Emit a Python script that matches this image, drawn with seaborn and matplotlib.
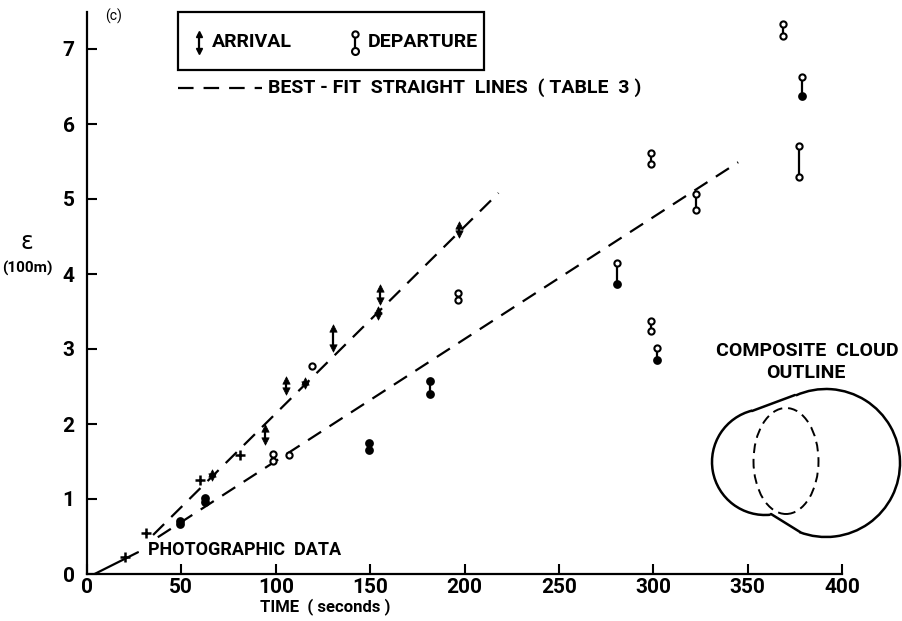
import matplotlib
matplotlib.use("Agg")
import matplotlib.pyplot as plt
from matplotlib.patches import Rectangle, Arc, Ellipse
import numpy as np
import pandas as pd
import seaborn as sns

# ---------------- data ----------------
arr_t  = [20, 31, 60, 66, 81, 94.5, 105.5, 115.5, 130.5, 154, 155, 197]
arr_lo = [0.23, 0.55, 1.25, 1.29, 1.59, 1.77, 2.44, 2.52, 3.02, 3.44, 3.64, 4.54]
arr_hi = [0.23, 0.55, 1.25, 1.35, 1.59, 1.95, 2.59, 2.58, 3.28, 3.52, 3.81, 4.66]

dep_t  = [49.5, 62.5, 98.5, 107, 119, 149.5, 181.5, 196.5, 281, 299, 299, 302, 322.5, 369, 379, 377]
dep_lo = [0.67, 0.96, 1.51, 1.59, 2.77, 1.65, 2.40, 3.65, 3.87, 5.47, 3.24, 2.85, 4.85, 7.18, 6.38, 5.30]
dep_hi = [0.71, 1.02, 1.60, 1.59, 2.77, 1.75, 2.57, 3.75, 4.15, 5.62, 3.38, 3.02, 5.07, 7.33, 6.63, 5.71]
dep_top_filled = [1, 1, 0, 0, 0, 1, 1, 0, 0, 0, 0, 0, 0, 0, 0, 0]
dep_bot_filled = [1, 1, 0, 0, 0, 1, 1, 0, 1, 0, 0, 1, 0, 0, 1, 0]

fit_name = ["arrival", "arrival", "departure", "departure"]
fit_t    = [35, 218, 37.5, 345]
fit_eps  = [0.52, 5.08, 0.49, 5.49]

photo_t   = [4, 27]
photo_eps = [0.0, 0.29]

x_ticks = [0, 50, 100, 150, 200, 250, 300, 350, 400]
y_ticks = [0, 1, 2, 3, 4, 5, 6, 7]

# ---------------- style ----------------
sns.set_theme(style="ticks")
plt.rcParams["font.family"] = ["Roboto", "DejaVu Sans"]
plt.rcParams["text.color"] = "black"
FS = 14
W = 902; H = 621

fig = plt.figure(figsize=(9.02, 6.21), dpi=100)
ax = fig.add_axes([87 / W, (H - 574) / H, (842 - 87) / W, 562.5 / H])

LW = 1.6
DASH = (0, (7, 4.5))
# fitted lines
fit_df = pd.DataFrame({"line": fit_name, "t": fit_t, "eps": fit_eps})
for name, g in fit_df.groupby("line"):
    sns.lineplot(data=g, x="t", y="eps", ax=ax, color="black", lw=LW,
                 linestyle=DASH, estimator=None, sort=False, legend=False)
# photographic data
sns.lineplot(x=photo_t, y=photo_eps, ax=ax, color="black", lw=LW,
             estimator=None, sort=False, legend=False)

# arrival marks
arr_df = pd.DataFrame({"t": arr_t, "lo": arr_lo, "hi": arr_hi})
rng = arr_df[arr_df.hi > arr_df.lo]
pts = arr_df[arr_df.hi == arr_df.lo]
ax.vlines(rng.t, rng.lo, rng.hi, color="black", lw=LW)
sns.scatterplot(data=rng, x="t", y="hi", ax=ax, marker="^", s=28, color="black",
                edgecolor="black", linewidth=0.5, legend=False, zorder=4)
sns.scatterplot(data=rng, x="t", y="lo", ax=ax, marker="v", s=28, color="black",
                edgecolor="black", linewidth=0.5, legend=False, zorder=4)
sns.scatterplot(data=pts, x="t", y="lo", ax=ax, marker="+", s=45, color="black",
                linewidth=1.8, legend=False, zorder=4)

# departure marks
dep_df = pd.DataFrame({"t": dep_t, "lo": dep_lo, "hi": dep_hi,
                       "tf": dep_top_filled, "bf": dep_bot_filled})
drng = dep_df[dep_df.hi > dep_df.lo]
ax.vlines(drng.t, drng.lo, drng.hi, color="black", lw=LW)
for col, flagcol, sub in [("hi", "tf", dep_df), ("lo", "bf", drng)]:
    filled = sub[sub[flagcol] == 1]
    empty = sub[sub[flagcol] == 0]
    sns.scatterplot(data=filled, x="t", y=col, ax=ax, marker="o", s=26,
                    color="black", edgecolor="black", linewidth=1.2, legend=False, zorder=5)
    sns.scatterplot(data=empty, x="t", y=col, ax=ax, marker="o", s=20,
                    facecolor="white", edgecolor="black", linewidth=1.5, legend=False, zorder=5)

ax.set_xlim(0, 400)
ax.set_ylim(0, 7.5)
ax.set_xticks(x_ticks)
ax.set_yticks(y_ticks)
ax.set_xticklabels([str(v) for v in x_ticks], fontsize=FS + 1, fontweight="bold")
ax.set_yticklabels([str(v) for v in y_ticks], fontsize=FS + 1, fontweight="bold")
ax.tick_params(direction="in", length=7, width=1.5, color="black", labelcolor="black")
ax.tick_params(axis="x", pad=3)
ax.tick_params(axis="y", pad=9)
for s in ["top", "right"]:
    ax.spines[s].set_visible(False)
for s in ["left", "bottom"]:
    ax.spines[s].set_linewidth(1.6)
    ax.spines[s].set_color("black")
ax.set_xlabel("")
ax.set_ylabel("")
ax.patch.set_alpha(0)

# ---------------- overlay in pixel coordinates ----------------
ov = fig.add_axes([0, 0, 1, 1])
ov.set_xlim(0, W)
ov.set_ylim(0, H)
ov.axis("off")
ov.patch.set_alpha(0)

def P(x, y):
    return x, H - y

tkw = dict(fontsize=FS, fontweight="bold", color="black")
ov.text(*P(325, 607), "TIME  ( seconds )", ha="center", va="center", fontsize=12,
        fontweight="bold", color="black")
ov.text(*P(27, 242), "ε", ha="center", va="center", fontsize=FS + 3, color="black",
        family=["DejaVu Sans"])
ov.text(*P(2, 268), "(100m)", ha="left", va="center", fontsize=11,
        fontweight="bold", color="black")
ov.text(*P(114, 16), "(c)", ha="center", va="center", fontsize=10, color="black")
ov.text(*P(148, 550), "PHOTOGRAPHIC  DATA", ha="left", va="center", fontsize=13,
        fontweight="bold", color="black")

# legend box
ov.add_patch(Rectangle(P(178, 70), 306, 58, fill=False, lw=1.6, ec="black"))
ov.plot([199, 199], [H - 34, H - 51], color="black", lw=LW)
ov.plot([199], [H - 34], marker="^", ms=5, color="black")
ov.plot([199], [H - 51], marker="v", ms=5, color="black")
ov.text(*P(212, 42), "ARRIVAL", ha="left", va="center", **tkw)
ov.plot([355, 355], [H - 34, H - 51], color="black", lw=LW)
ov.plot([355], [H - 34], marker="o", ms=4.5, mfc="white", mec="black", mew=1.5)
ov.plot([355], [H - 51], marker="o", ms=5, mfc="white", mec="black", mew=1.5)
ov.text(*P(368, 42), "DEPARTURE", ha="left", va="center", **tkw)
ov.plot([178, 262], [H - 88, H - 88], color="black", lw=LW, linestyle=DASH)
ov.text(*P(268, 88), "BEST - FIT  STRAIGHT  LINES  ( TABLE  3 )", ha="left", va="center", **tkw)

# composite cloud outline
ov.text(*P(807, 351), "COMPOSITE  CLOUD", ha="center", va="center", **tkw)
ov.text(*P(806, 373), "OUTLINE", ha="center", va="center", **tkw)
ov.add_patch(Arc(P(826, 463), 148, 148, theta1=-111, theta2=114, lw=1.8, color="black"))
ov.add_patch(Arc(P(765, 462), 106, 106, theta1=104, theta2=276, lw=1.8, color="black"))
ov.plot([752, 795], [H - 411, H - 395], color="black", lw=1.8)
ov.plot([771, 800], [H - 514, H - 532], color="black", lw=1.8)
ov.add_patch(Ellipse(P(786, 461), 65, 106, fill=False, lw=1.4, ec="black",
                     linestyle=(0, (5, 3))))

fig.savefig("out.png", dpi=100, facecolor="white")
